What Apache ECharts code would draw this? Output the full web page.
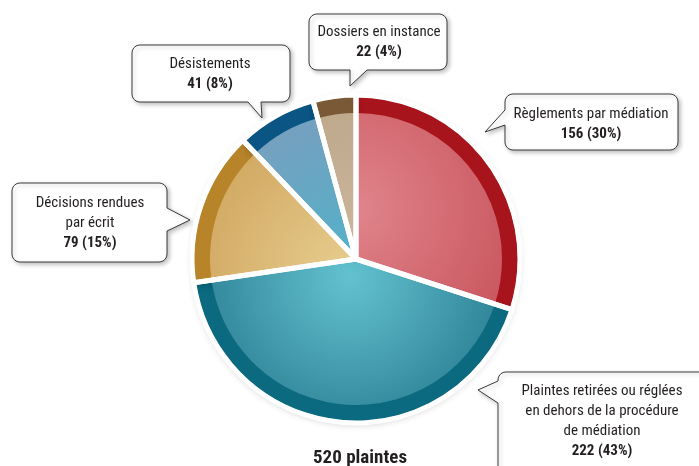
<!DOCTYPE html>
<html>
<head>
<meta charset="utf-8">
<script src="https://cdn.jsdelivr.net/npm/echarts@6/dist/echarts.min.js"></script>
<style>
html,body{margin:0;padding:0;background:#fff;}
#chart{width:699px;height:466px;}
</style>
</head>
<body>
<div id="chart"></div>
<script>
// ---- Data ----
const categories = [
  'Règlements par médiation',
  'Plaintes retirées ou réglées\nen dehors de la procédure\nde médiation',
  'Décisions rendues\npar écrit',
  'Désistements',
  'Dossiers en instance'
];
const values = [156, 222, 79, 41, 22];
const percents = [30, 43, 15, 8, 4];
const totalLabel = '520 plaintes';

// ---- Styles ----
const FONT = '"Liberation Sans Narrow", "Arial Narrow", "Roboto Condensed", "Liberation Sans", sans-serif';
const CX = 356, CY = 259, R = 162, RIN = 146;
const rimColors = ['#a8141c', '#0b6a7f', '#b8842a', '#0a5584', '#7a5a36'];
const innerColors = [
  ['#e0848b', '#c64f58'],
  ['#63c2cf', '#2f8397'],
  ['#e8ce8f', '#d2aa64'],
  ['#4fb2cb', '#74a1bf'],
  ['#cdb99f', '#c0aa8e']
];
// radial gradient centre offsets [dx, dy, r] per slice
const gradGeom = [[0, -50, 200], [-6, 18, 156], [-6, 18, 156], [-6, 18, 156], [-6, 18, 156]];
// label centres and callout boxes
const labelPos = [[591, 124], [602, 421], [90, 223], [210, 74], [379, 42]];
const boxes = [
  {x: 505, y: 94, w: 173, h: 56, side: 'left', a: 110, b: 125, tip: [485, 132]},
  {x: 498, y: 372, w: 215, h: 120, side: 'left', a: 381, b: 403, tip: [478, 390]},
  {x: 12, y: 183, w: 155, h: 79, side: 'right', a: 208, b: 231, tip: [190, 220]},
  {x: 132, y: 45, w: 158, h: 57, side: 'bottom', a: 248, b: 261, tip: [262, 118]},
  {x: 309, y: 14, w: 138, h: 56, side: 'bottom', a: 350, b: 367, tip: [350, 86]}
];

function corner(pts, cx, cy, r, a0, a1) {
  const n = 6;
  for (let k = 0; k <= n; k++) {
    const a = a0 + (a1 - a0) * k / n;
    pts.push([cx + r * Math.cos(a), cy + r * Math.sin(a)]);
  }
}
function bubblePoints(bx) {
  const {x, y, w, h, side, a, b, tip} = bx;
  const r = 8, P = Math.PI;
  const pts = [];
  corner(pts, x + r, y + r, r, P, 1.5 * P);            // top-left
  corner(pts, x + w - r, y + r, r, 1.5 * P, 2 * P);    // top-right
  if (side === 'right') pts.push([x + w, a], tip, [x + w, b]);
  corner(pts, x + w - r, y + h - r, r, 0, 0.5 * P);    // bottom-right
  if (side === 'bottom') pts.push([b, y + h], tip, [a, y + h]);
  corner(pts, x + r, y + h - r, r, 0.5 * P, P);        // bottom-left
  if (side === 'left') pts.push([x, b], tip, [x, a]);
  return pts;
}

const chart = echarts.init(document.getElementById('chart'), null, {renderer: 'canvas'});

const rimData = categories.map((c, i) => ({
  name: c, value: values[i],
  itemStyle: {color: rimColors[i]}
}));
const innerData = categories.map((c, i) => ({
  name: c, value: values[i],
  itemStyle: {
    color: {
      type: 'radial', x: CX + gradGeom[i][0], y: CY + gradGeom[i][1], r: gradGeom[i][2], global: true,
      colorStops: [
        {offset: 0, color: innerColors[i][0]},
        {offset: 1, color: innerColors[i][1]}
      ]
    }
  }
}));
const overlayData = categories.map((c, i) => ({
  name: c, value: values[i], pct: percents[i]
}));

const option = {
  backgroundColor: '#ffffff',
  animation: false,
  title: {
    text: totalLabel,
    left: 355, top: 444, textAlign: 'center',
    textStyle: {fontFamily: FONT, fontSize: 19, fontWeight: 'bold', color: '#231f20'}
  },
  graphic: boxes.map(bx => ({
    type: 'polygon',
    shape: {points: bubblePoints(bx)},
    style: {
      fill: '#ffffff', stroke: '#3a3a3a', lineWidth: 1,
      shadowBlur: 4, shadowOffsetX: 2, shadowOffsetY: 2, shadowColor: 'rgba(0,0,0,0.25)'
    },
    z: 1
  })),
  series: [
    {
      type: 'pie', center: [CX, CY], radius: [0, R], startAngle: 90, clockwise: true,
      silent: true, label: {show: false}, labelLine: {show: false},
      itemStyle: {shadowBlur: 8, shadowOffsetY: 2, shadowColor: 'rgba(0,0,0,0.3)'},
      data: rimData, z: 2
    },
    {
      type: 'pie', center: [CX, CY], radius: [0, RIN], startAngle: 90, clockwise: true,
      silent: true, label: {show: false}, labelLine: {show: false},
      data: innerData, z: 3
    },
    {
      type: 'pie', center: [CX, CY], radius: [0, R + 2], startAngle: 90, clockwise: true,
      silent: true, avoidLabelOverlap: false,
      itemStyle: {color: 'rgba(0,0,0,0)', borderColor: '#ffffff', borderWidth: 5},
      labelLine: {show: false},
      label: {
        show: true, position: 'outside',
        fontFamily: FONT, fontSize: 15, color: '#231f20', lineHeight: 20, align: 'center',
        formatter: p => p.name + '\n{b|' + p.value + ' (' + p.data.pct + '%)}',
        rich: {b: {fontFamily: FONT, fontSize: 15, fontWeight: 'bold', color: '#231f20', lineHeight: 19}}
      },
      labelLayout: p => ({
        x: labelPos[p.dataIndex][0], y: labelPos[p.dataIndex][1],
        align: 'center', verticalAlign: 'middle'
      }),
      data: overlayData, z: 4
    }
  ]
};
chart.setOption(option);
</script>
</body>
</html>
